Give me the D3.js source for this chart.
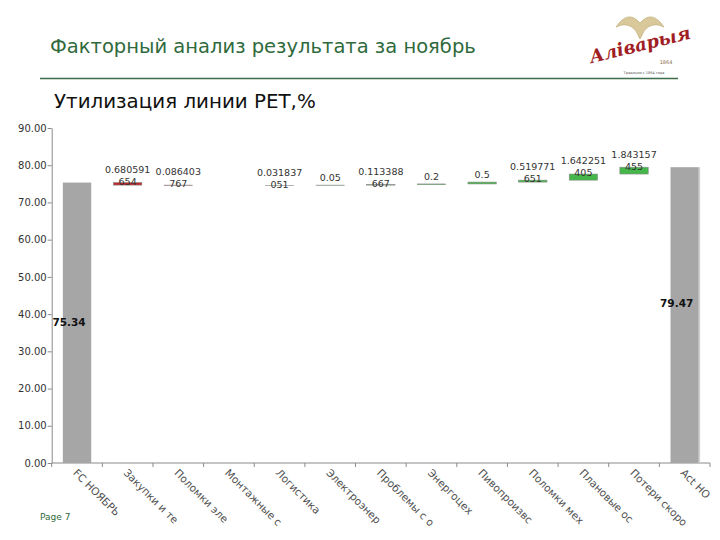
<!DOCTYPE html>
<html><head><meta charset="utf-8">
<script src="https://cdn.jsdelivr.net/npm/d3@7"></script>
<style>
html,body{margin:0;padding:0;background:#fff;}
svg{display:block;}
</style></head>
<body>
<svg id="c" width="720" height="540"></svg>
<script>
// ---- data ----
const categories = ["FC НОЯБРЬ","Закупки и те","Поломки эле","Монтажные с","Логистика","Электроэнер","Проблемы с о","Энергоцех","Пивопроизвс","Поломки мех","Плановые ос","Потери скоро","Act НО"];
const startValue = 75.34;
const endValue = 79.47;
const deltas = [-0.680591654, -0.086403767, 0, 0.031837051, 0.05, 0.113388667, 0.2, 0.5, 0.519771651, 1.642251405, 1.843157455];
const yTicks = [0,10,20,30,40,50,60,70,80,90];
const title = "Факторный анализ результата за ноябрь";
const subtitle = "Утилизация линии PET,%";

// ---- build waterfall rows ----
const rows = [];
rows.push({cat:categories[0], y0:0, y1:startValue, type:"total", v:startValue});
let cum = startValue;
deltas.forEach((d,i)=>{
  const a = cum, b = cum + d;
  rows.push({cat:categories[i+1], y0:Math.min(a,b), y1:Math.max(a,b), type: d<0?"dec":"inc", v:d});
  cum = b;
});
rows.push({cat:categories[categories.length-1], y0:0, y1:endValue, type:"total", v:endValue});

const svg = d3.select("#c");
const FONT = "'DejaVu Sans', Verdana, sans-serif";

// ---- header ----
function fitText(sel, target){
  const w = sel.node().getComputedTextLength();
  const fs = parseFloat(sel.attr("font-size"));
  sel.attr("font-size", fs*target/w);
}
const t1 = svg.append("text").attr("x",50).attr("y",53).attr("font-family",FONT)
  .attr("font-size",18).attr("fill","#2f6a3c").text(title);
fitText(t1, 426);
svg.append("line").attr("x1",40).attr("x2",678).attr("y1",78.5).attr("y2",78.5)
  .attr("stroke","#3d6e47").attr("stroke-width",1.3);
const t2 = svg.append("text").attr("x",54).attr("y",108).attr("font-family",FONT)
  .attr("font-size",18).attr("fill","#111").text(subtitle);
fitText(t2, 262);

// ---- logo (approximation) ----
const logo = svg.append("g").attr("transform","translate(640,45)");
logo.append("path").attr("d","M-24,-18 Q-12,-36 0,-22 Q12,-36 24,-18 Q12,-24 4,-14 L0,-6 L-4,-14 Q-12,-24 -24,-18 Z")
  .attr("fill","#d8c89a").attr("stroke","#b9a46a").attr("stroke-width",0.6);
logo.append("text").attr("x",0).attr("y",6).attr("text-anchor","middle")
  .attr("transform","rotate(-14)").attr("font-family","'DejaVu Serif', serif")
  .attr("font-style","italic").attr("font-weight","bold").attr("font-size",18)
  .attr("fill","#a01d24").text("Аліварыя");
logo.append("text").attr("x",26).attr("y",19).attr("text-anchor","middle")
  .attr("font-family",FONT).attr("font-size",5).attr("fill","#8a6a4a").text("1864");
logo.append("text").attr("x",4).attr("y",29).attr("text-anchor","middle")
  .attr("font-family",FONT).attr("font-size",3.5).attr("fill","#555").text("Традиции с 1864 года");

// ---- scales ----
const x = d3.scaleBand().domain(categories).range([51.7,710]).padding(0);
const y = d3.scaleLinear().domain([0,90]).range([463,128]);
const barW = x.bandwidth()*0.56;
const cx = c => x(c) + x.bandwidth()/2;

// ---- axes ----
const axisColor = "#8a8a8a";
const yAxis = svg.append("g").attr("transform","translate(51.7,0)")
  .call(d3.axisLeft(y).tickValues(yTicks).tickFormat(d3.format(".2f")).tickSize(4).tickSizeOuter(0));
yAxis.select(".domain").attr("stroke",axisColor);
yAxis.selectAll(".tick line").attr("stroke",axisColor);
yAxis.selectAll(".tick text").attr("font-family",FONT).attr("font-size",10).attr("fill","#333").attr("x",-5);

const xg = svg.append("g").attr("transform","translate(0,463)");
xg.append("line").attr("x1",51.7).attr("x2",710).attr("stroke",axisColor).attr("stroke-width",1.2);
const boundaries = categories.map(c=>x(c)).concat([x(categories[categories.length-1])+x.bandwidth()]);
xg.selectAll("line.tk").data(boundaries).join("line").attr("class","tk")
  .attr("x1",d=>d).attr("x2",d=>d).attr("y1",0).attr("y2",4).attr("stroke",axisColor);

// x labels clipped
svg.append("clipPath").attr("id","xclip").append("rect").attr("x",0).attr("y",464).attr("width",712).attr("height",63);
svg.append("g").attr("clip-path","url(#xclip)")
  .selectAll("text").data(categories).join("text")
  .attr("transform",c=>`translate(${cx(c)-2},471) rotate(45)`)
  .attr("dy","0.35em")
  .attr("font-family",FONT).attr("font-size",10.5).attr("fill","#505050")
  .text(c=>c);

// ---- bars ----
const colorOf = r => r.type==="total" ? "#a6a6a6" : (r.type==="dec" ? "#c0272d" : "#45b649");
svg.append("g").selectAll("rect").data(rows).join("rect")
  .attr("x",r=>cx(r.cat)-barW/2)
  .attr("width",barW)
  .attr("y",r=>y(r.y1))
  .attr("height",r=>Math.max(0,y(r.y0)-y(r.y1)))
  .attr("fill",colorOf)
  .attr("stroke",r=> r.type==="total" ? "none" : (r.v===0?"none":"#8a8a8a"))
  .attr("stroke-width",0.6);
// light edge on the final bar
const last = rows[rows.length-1];
svg.append("line").attr("x1",cx(last.cat)+barW/2+0.5).attr("x2",cx(last.cat)+barW/2+0.5)
  .attr("y1",y(last.y1)).attr("y2",y(0)).attr("stroke","#d0d0d0").attr("stroke-width",1.5);

// ---- delta labels ----
const lh = 12;
const lg = svg.append("g");
rows.forEach((r,i)=>{
  if(r.type==="total" || r.v===0) return;
  const s = String(Math.abs(r.v));
  const lines = [];
  for(let k=0;k<s.length;k+=8) lines.push(s.slice(k,k+8));
  const center = y(r.y1) - 7;
  const top = center - (lines.length-1)*lh/2;
  lines.forEach((ln,j)=>{
    lg.append("text").attr("x",cx(r.cat)).attr("y",top + j*lh).attr("dy","0.35em")
      .attr("text-anchor","middle").attr("font-family",FONT).attr("font-size",9.5)
      .attr("fill","#333").text(ln);
  });
});

// ---- total labels ----
rows.forEach((r,i)=>{
  if(r.type!=="total") return;
  const isLast = i===rows.length-1;
  svg.append("text").attr("x",cx(r.cat)-8).attr("y",y(r.v/2) - (isLast?12:0)).attr("dy","0.35em")
    .attr("text-anchor","middle").attr("font-family",FONT).attr("font-size",10.5)
    .attr("font-weight","bold").attr("fill","#111").text(d3.format(".2f")(r.v));
});

// ---- footer ----
svg.append("text").attr("x",40).attr("y",520).attr("font-family",FONT).attr("font-size",9)
  .attr("fill","#2f6a3c").text("Page 7");
</script>
</body></html>
